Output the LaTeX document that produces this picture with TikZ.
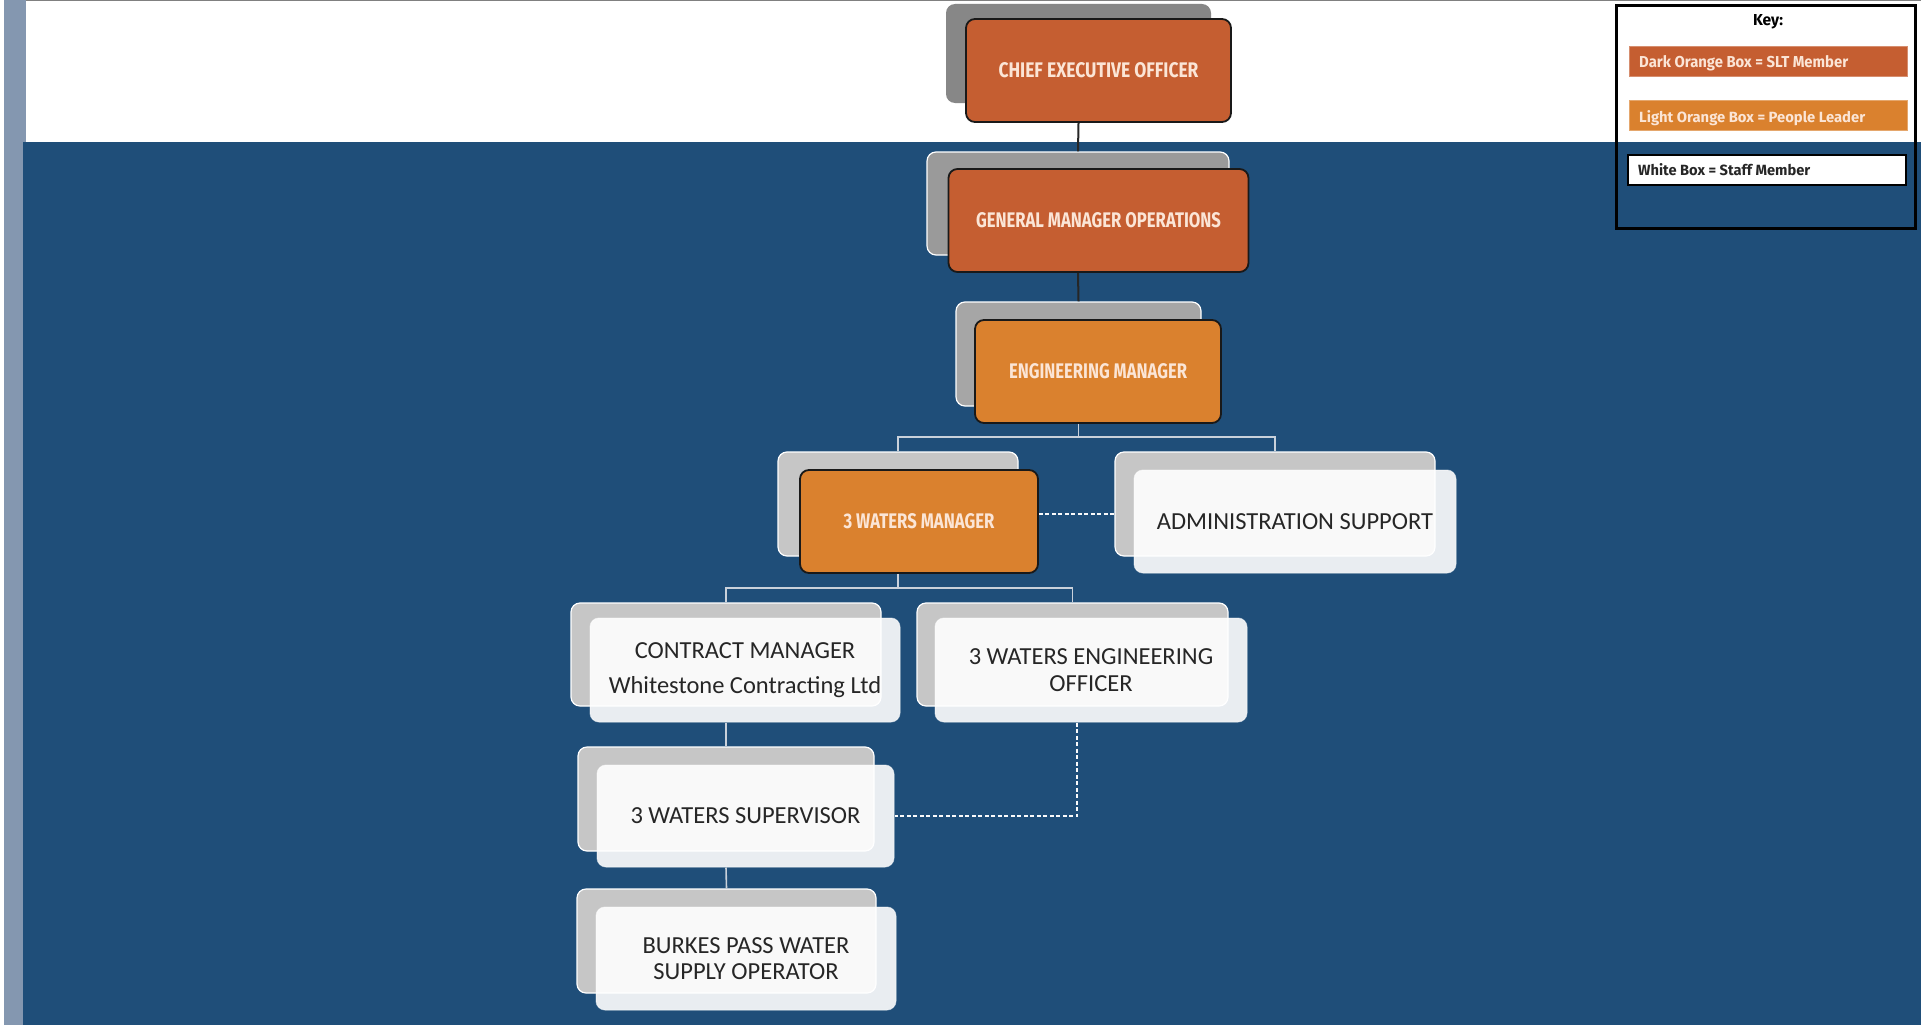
\documentclass[tikz,border=0pt]{standalone}
\usepackage{fontspec}
\usepackage{graphicx}
\newfontfamily\hfont{Fira Sans}
\newfontfamily\bfont{Carlito}
\definecolor{bgblue}{HTML}{1F4E79}
\definecolor{stripc}{HTML}{8497B0}
\definecolor{darkor}{HTML}{C55E31}
\definecolor{lightor}{HTML}{DA812E}
\definecolor{ortext}{HTML}{FBE5D6}
\definecolor{lgline}{HTML}{C9D1DB}
\definecolor{sh1}{HTML}{878787}
\definecolor{sh2}{HTML}{9A9A9A}
\definecolor{sh3}{HTML}{A6A6A6}
\definecolor{sh4}{HTML}{C6C6C6}
\definecolor{wtext}{HTML}{262626}
\newcommand\otxt[2]{\resizebox{#1pt}{15pt}{\hfont\bfseries #2}}
\newcommand\ktxt[2]{\resizebox{#1pt}{12pt}{\hfont\bfseries #2}}
\begin{document}
\begin{tikzpicture}[x=1pt,y=-1pt,
  sbox/.style={rectangle, rounded corners=9pt, draw=white, line width=1.2pt, fill=sh4, inner sep=0pt},
  obox/.style={rectangle, rounded corners=9pt, draw=black!90, line width=1.8pt, inner sep=0pt, text=ortext},
  wbox/.style={rectangle, rounded corners=9pt, draw=white, draw opacity=0.5, line width=1pt, fill=white, fill opacity=0.9, text opacity=1, inner sep=0pt, text=wtext, align=center, font=\bfont\fontsize{24.5}{26.5}\selectfont},
  darkline/.style={draw=black!85, line width=2pt},
  lightline/.style={draw=lgline, line width=1.6pt},
  dashline/.style={draw=white!90!lgline, line width=1.6pt, dash pattern=on 4pt off 2.5pt},
  keybar/.style={rectangle, inner sep=0pt, minimum width=278pt, minimum height=30pt},
  ktext/.style={anchor=base west, inner sep=0pt}
]
\useasboundingbox (0,0) rectangle (1921,1025);
% background
\fill[white] (0,0) rectangle (1921,1025);
\fill[stripc] (4,0) rectangle (26,1025);
\fill[gray] (26,0) rectangle (1921,1.5);
\fill[bgblue] (22.5,142) rectangle (1921,1025);

% boxes
\node[sbox, fill=sh1, draw=none, minimum width=265pt, minimum height=99pt] (ceoS) at (1078.5,53.5) {};
\node[obox, fill=darkor, minimum width=265pt, minimum height=103pt] (ceo) at (1098.5,70.5) {\otxt{200}{CHIEF EXECUTIVE OFFICER}};

\node[sbox, fill=sh2, minimum width=302pt, minimum height=103pt] (gmS) at (1078,203.5) {};
\node[obox, fill=darkor, minimum width=300pt, minimum height=103pt] (gm) at (1098.5,220.5) {\otxt{245}{GENERAL MANAGER OPERATIONS}};

\node[sbox, fill=sh3, minimum width=245pt, minimum height=104pt] (emS) at (1078.5,354) {};
\node[obox, fill=lightor, minimum width=246pt, minimum height=103pt] (em) at (1098,371.5) {\otxt{178}{ENGINEERING MANAGER}};

\node[sbox, minimum width=240pt, minimum height=104pt] (twmS) at (898,504) {};
\node[obox, fill=lightor, minimum width=238pt, minimum height=103pt] (twm) at (919,521.5) {\otxt{151}{3 WATERS MANAGER}};

\node[sbox, minimum width=320pt, minimum height=104pt] (admS) at (1275,504) {};
\node[wbox, minimum width=322pt, minimum height=103pt] (adm) at (1295,521.5) {ADMINISTRATION SUPPORT};

\node[sbox, minimum width=310pt, minimum height=103pt] (conS) at (726,654.5) {};
\node[wbox, minimum width=310pt, minimum height=104pt] (con) at (745,670) {CONTRACT MANAGER\\[8pt]Whitestone Contracting Ltd};

\node[sbox, minimum width=311pt, minimum height=103pt] (weoS) at (1072.5,654.5) {};
\node[wbox, minimum width=312pt, minimum height=104pt] (weo) at (1091,670) {3 WATERS ENGINEERING\\OFFICER};

\node[sbox, minimum width=296pt, minimum height=104pt] (supS) at (726,799) {};
\node[wbox, minimum width=297pt, minimum height=102pt] (sup) at (745.5,816) {3 WATERS SUPERVISOR};

\node[sbox, minimum width=299pt, minimum height=104pt] (bpwS) at (726.5,941) {};
\node[wbox, minimum width=300pt, minimum height=103pt] (bpw) at (746,958.5) {BURKES PASS WATER\\SUPPLY OPERATOR};

% connectors
\draw[darkline] (ceoS.south |- ceo.south) -- (gmS.north);
\draw[darkline] (gmS.south |- gm.south) -- (emS.north);
\draw[lightline] (emS.south |- em.south) -- ++(0,13) -| (twmS.north);
\draw[lightline] (emS.south |- em.south) -- ++(0,13) -| (admS.north);
\draw[lightline] (twmS.south |- twm.south) -- ++(0,14) -| (conS.north);
\draw[lightline] (twmS.south |- twm.south) -- ++(0,14) -| (weoS.north);
\draw[lightline] (conS.south |- con.south) -- (supS.north);
\draw[lightline] (supS.south |- sup.south) -- (bpwS.north);
\draw[dashline] ([yshift=7.5pt]twm.east) -- ([yshift=7.5pt]twm.east -| admS.west);
\coordinate (weoD) at ([xshift=4.5pt]weoS.south |- weo.south);
\draw[dashline] (weoD) -- (weoD |- sup.east) -- (sup.east);

% key
\node[rectangle, draw=black, line width=3pt, inner sep=0pt, minimum width=299pt, minimum height=223pt] (key) at (1766,117) {};
\node[anchor=base, inner sep=0pt] (keyt) at (1768,26) {\resizebox{30pt}{11pt}{\hfont\bfseries Key:}};
\node[keybar, fill=darkor, draw=darkor!70!white, line width=0.6pt] (k1) at (1768,61) {};
\node[ktext, text=ortext] (k1t) at (1639,67) {\ktxt{209}{Dark Orange Box = SLT Member}};
\node[keybar, fill=lightor, draw=lightor!70!white, line width=0.6pt] (k2) at (1768,115.5) {};
\node[ktext, text=ortext] (k2t) at (1639,122.5) {\ktxt{226}{Light Orange Box = People Leader}};
\node[keybar, fill=white, draw=black, line width=2pt] (k3) at (1767,170) {};
\node[ktext, text=black!85] (k3t) at (1638,175.5) {\ktxt{172}{White Box = Staff Member}};
\end{tikzpicture}
\end{document}
